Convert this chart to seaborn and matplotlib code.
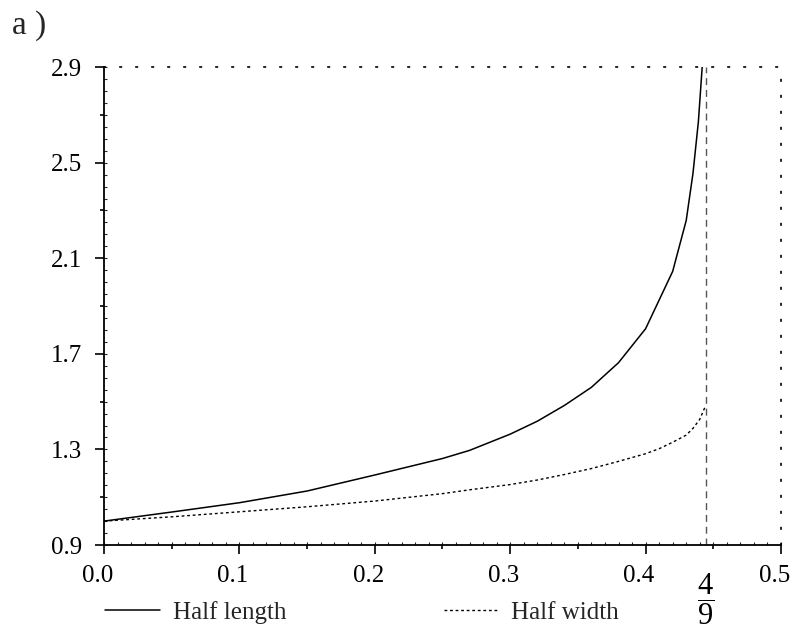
import numpy as np
import pandas as pd
import matplotlib
matplotlib.use("Agg")
import matplotlib.pyplot as plt
from matplotlib.ticker import FixedLocator
from matplotlib.transforms import ScaledTranslation
import seaborn as sns

# Half length and half width of the shape versus the parameter
x_length = [0.0, 0.05, 0.10, 0.15, 0.20, 0.25, 0.27, 0.30, 0.32, 0.34, 0.36,
            0.38, 0.40, 0.42, 0.43, 0.435, 0.439, 0.4418]
half_length = [1.0, 1.038, 1.077, 1.126, 1.193, 1.262, 1.296, 1.364, 1.418,
               1.484, 1.560, 1.663, 1.805, 2.045, 2.258, 2.455, 2.672, 2.90]

x_width = [0.0, 0.05, 0.10, 0.15, 0.20, 0.25, 0.27, 0.30, 0.32, 0.34, 0.36,
           0.38, 0.40, 0.41, 0.42, 0.43, 0.435, 0.44, 0.4444]
half_width = [1.0, 1.018, 1.039, 1.060, 1.084, 1.115, 1.131, 1.153, 1.172,
              1.195, 1.220, 1.250, 1.282, 1.303, 1.330, 1.360, 1.388, 1.426,
              1.484]

critical = 4 / 9
x_ticks = [0.0, 0.1, 0.2, 0.3, 0.4, 0.5]
x_tick_labels = ["0.0", "0.1", "0.2", "0.3", "0.4", "0.5"]
y_ticks = [0.9, 1.3, 1.7, 2.1, 2.5, 2.9]
y_tick_labels = ["0.9", "1.3", "1.7", "2.1", "2.5", "2.9"]

sns.set_theme(style="ticks")
plt.rcParams["font.family"] = ["Liberation Serif", "DejaVu Serif"]
plt.rcParams["mathtext.fontset"] = "custom"
plt.rcParams["mathtext.rm"] = "Liberation Serif"
plt.rcParams["mathtext.it"] = "Liberation Serif"

fig = plt.figure(figsize=(7.94, 6.33), dpi=100)
ax = fig.add_axes([0.131, 0.139, 0.8526, 0.755])

length_df = pd.DataFrame({"x": x_length, "y": half_length})
width_df = pd.DataFrame({"x": x_width, "y": half_width})

sns.lineplot(data=length_df, x="x", y="y", ax=ax, color="black", lw=1.1,
             estimator=None, sort=False, label="Half length")
sns.lineplot(data=width_df, x="x", y="y", ax=ax, color="black", lw=1.0,
             linestyle=(0, (2, 2)), estimator=None, sort=False,
             label="Half width")

ax.axvline(critical, color="#555555", lw=1.0, linestyle=(0, (5, 3.5)),
           zorder=1)

ax.set_xlim(0.0, 0.5)
ax.set_ylim(0.9, 2.9)
ax.set_xlabel("")
ax.set_ylabel("")

# frame: solid left/bottom, dotted top/right
for side in ("left", "bottom"):
    ax.spines[side].set_linewidth(1.3)
    ax.spines[side].set_color("black")
for side in ("top", "right"):
    ax.spines[side].set_visible(True)
    ax.spines[side].set_color("black")
    ax.spines[side].set_linewidth(1.2)
    ax.spines[side].set_linestyle((0, (0.8, 8.8)))

ax.set_xticks(x_ticks + [critical])
ax.set_xticklabels(x_tick_labels + [r"$\dfrac{4}{9}$"])
ax.xaxis.set_minor_locator(FixedLocator([0.05, 0.15, 0.25, 0.35, 0.45]))
ax.set_yticks(y_ticks)
ax.set_yticklabels(y_tick_labels)
ax.yaxis.set_minor_locator(FixedLocator([1.1, 1.5, 1.9, 2.3, 2.7]))

ax.tick_params(axis="both", which="major", direction="out", length=6.5,
               width=1.2, color="black", labelsize=18, labelcolor="black")
ax.tick_params(axis="x", which="major", pad=8)
ax.tick_params(axis="y", which="major", pad=9)
ax.tick_params(axis="both", which="minor", direction="out", length=3.2,
               width=1.2, color="black")

# decimal labels sit a little to the left of their ticks
shift = ScaledTranslation(-0.065, 0, fig.dpi_scale_trans)
major_ticks = ax.xaxis.get_major_ticks()
for tick in major_ticks[:-1]:
    tick.label1.set_transform(tick.label1.get_transform() + shift)
# the 4/9 fraction hangs slightly lower than the decimals
frac_tick = major_ticks[-1]
frac_tick.tick1line.set_visible(False)
frac_tick.label1.set_fontsize(22)
frac_tick.label1.set_transform(
    frac_tick.label1.get_transform()
    + ScaledTranslation(0, -0.06, fig.dpi_scale_trans))

# fine graduation along both axes
sx = ax.secondary_xaxis("bottom")
sx.set_xticks(np.round(np.arange(0.0, 0.5001, 0.01), 2))
sx.tick_params(direction="in", length=2, width=0.8, labelbottom=False)
sx.spines["bottom"].set_visible(False)
sy = ax.secondary_yaxis("left")
sy.set_yticks(np.round(np.arange(0.9, 2.9001, 0.05), 2))
sy.tick_params(direction="in", length=2, width=0.8, labelleft=False)
sy.spines["left"].set_visible(False)

handles, labels = ax.get_legend_handles_labels()
ax.get_legend().remove()
fig.legend(handles, labels, loc="center left",
           bbox_to_anchor=(0.1325, 0.033), ncol=2, frameon=False,
           fontsize=18, handlelength=2.2, handletextpad=0.5,
           columnspacing=6.3, borderpad=0, borderaxespad=0)

fig.text(0.015, 0.947, "a )", fontsize=24, va="baseline", ha="left")

fig.savefig("out.png", dpi=100, facecolor="white")
